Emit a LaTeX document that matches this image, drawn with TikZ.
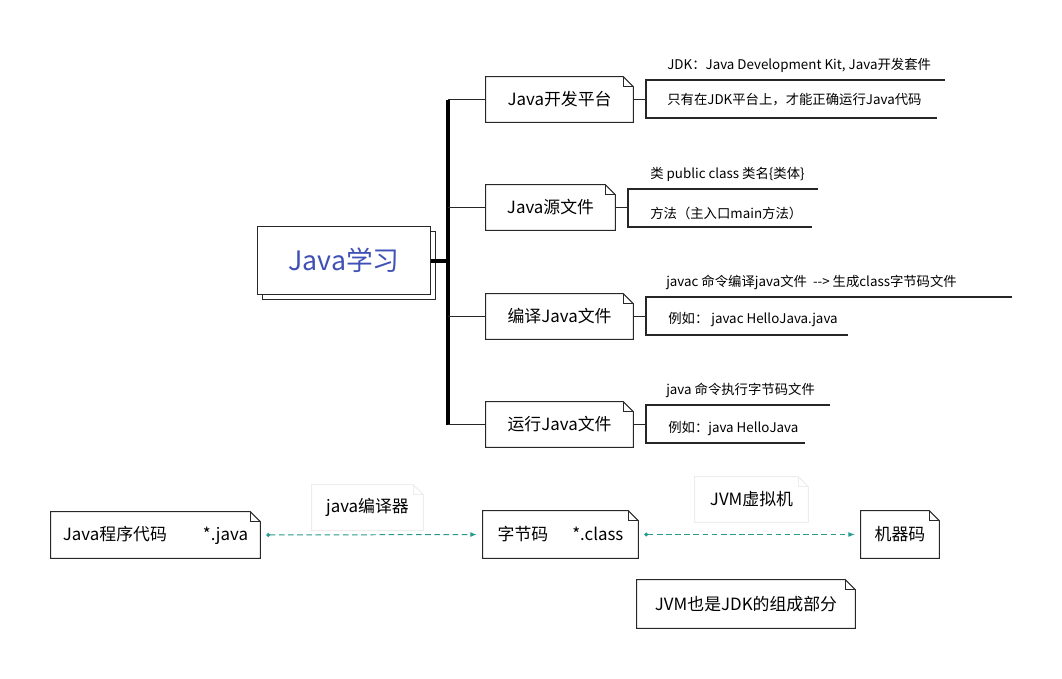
\documentclass[tikz,border=0pt]{standalone}
\usepackage{fontspec}
\setmainfont{Noto Sans CJK SC}
\usepackage{tikz}
\usetikzlibrary{shadows,arrows.meta}
\definecolor{rootblue}{RGB}{63,81,181}
\definecolor{flowteal}{RGB}{38,154,140}
\definecolor{edge}{RGB}{40,40,40}

% outline with a folded top right corner
\newcommand{\dogear}[2][draw=edge]{%
  \draw[#1, line width=0.7pt] (#2.south west) -- (#2.north west) -- ([xshift=-0.25cm]#2.north east)
    -- ([yshift=-0.25cm]#2.north east) -- (#2.south east) -- cycle;
  \draw[#1, line width=0.7pt] ([xshift=-0.25cm]#2.north east) |- ([yshift=-0.25cm]#2.north east);}

\tikzset{
  root/.style={draw=edge, fill=white, line width=0.7pt, minimum width=4.3cm, minimum height=1.7cm,
    text=rootblue, font=\fontsize{19}{22}\selectfont,
    copy shadow={shadow xshift=0.125cm, shadow yshift=-0.125cm}},
  branch/.style={minimum width=3.675cm, minimum height=1.125cm, inner sep=0pt, font=\fontsize{12}{14}\selectfont},
  leaf/.style={anchor=west, inner sep=0pt, font=\fontsize{9.5}{12}\selectfont},
  stage/.style={minimum height=1.175cm, inner sep=0pt, font=\fontsize{12}{14}\selectfont},
  spine/.style={line width=2.4pt, black},
  twig/.style={line width=1.2pt, black!85},
  under/.style={line width=0.8pt, black!85},
  flow/.style={{Circle[length=2.8pt]}-{Latex[length=4.5pt, width=3.5pt]}, flowteal, line width=0.7pt,
    dash pattern=on 4pt off 2.5pt, shorten <=0.15cm, shorten >=0.15cm},
}

\begin{document}
\begin{tikzpicture}[x=0.025cm, y=-0.025cm]
      \useasboundingbox (0,0) rectangle (1062,678);

      \node[root] (root) at (344,260) {Java学习};
      \coordinate (spx) at (448,261);

      \node[branch] (plat) at (559.5,99.5) {Java开发平台};
      \node[branch, minimum width=3.225cm] (src) at (550.5,207.5) {Java源文件};
      \node[branch] (comp) at (559.5,316.5) {编译Java文件};
      \node[branch] (run) at (559.5,424.5) {运行Java文件};
      \dogear{plat}
      \dogear{src}
      \dogear{comp}
      \dogear{run}

      \draw[spine] (plat.west -| spx) -- (run.west -| spx);
      \draw[spine] (root.east |- spx) -- (spx);
      \draw[twig] (plat.west -| spx) -- (plat.west);
      \draw[twig] (src.west -| spx) -- (src.west);
      \draw[twig] (comp.west -| spx) -- (comp.west);
      \draw[twig] (run.west -| spx) -- (run.west);

      % Java开发平台
      \coordinate (plat-t) at (646,80);
      \coordinate (plat-b) at (646,118);
      \node[leaf] (plat1) at (667,65) {JDK：Java Development Kit, Java开发套件};
      \node[leaf] (plat2) at (667,100) {只有在JDK平台上，才能正确运行Java代码};
      \draw[twig] (plat.east) -- (plat.east -| plat-t);
      \draw[under] (945,80) -- (plat-t) -- (plat-b) -- (937,118);

      % Java源文件
      \coordinate (src-t) at (628,189);
      \coordinate (src-b) at (628,227);
      \node[leaf] (src1) at (650,174) {类 public class 类名\{类体\}};
      \node[leaf] (src2) at (650,213) {方法（主入口main方法）};
      \draw[twig] (src.east) -- (src.east -| src-t);
      \draw[under] (818,189) -- (src-t) -- (src-b) -- (812,227);

      % 编译Java文件
      \coordinate (comp-t) at (646,297);
      \coordinate (comp-b) at (646,335);
      \node[leaf] (comp1) at (666,282) {javac 命令编译java文件\ \ {-}{-}> 生成class字节码文件};
      \node[leaf] (comp2) at (668,320) {例如： javac HelloJava.java};
      \draw[twig] (comp.east) -- (comp.east -| comp-t);
      \draw[under] (1012,297) -- (comp-t) -- (comp-b) -- (848,335);

      % 运行Java文件
      \coordinate (run-t) at (646,405);
      \coordinate (run-b) at (646,443);
      \node[leaf] (run1) at (666,390) {java 命令执行字节码文件};
      \node[leaf] (run2) at (668,429) {例如：java HelloJava};
      \draw[twig] (run.east) -- (run.east -| run-t);
      \draw[under] (830,405) -- (run-t) -- (run-b) -- (805,443);

      % from source code to machine code
      \node[stage, minimum width=5.225cm, minimum height=1.15cm] (code) at (155.5,535) {Java程序代码\hspace*{0.9cm}*.java};
      \node[stage, minimum width=3.875cm] (byte) at (560.5,534.5) {字节码\hspace*{0.6cm}*.class};
      \node[stage, minimum width=1.95cm] (mach) at (900,534.5) {机器码};
      \node[stage, minimum width=2.775cm, minimum height=1.125cm] (javac) at (367.5,507.5) {java编译器};
      \node[stage, minimum width=2.825cm, minimum height=1.125cm] (jvm) at (751.5,499.5) {JVM虚拟机};
      \node[stage, minimum width=5.45cm, minimum height=1.2cm] (part) at (746,604) {JVM也是JDK的组成部分};
      \dogear{code}
      \dogear{byte}
      \dogear{mach}
      \dogear{part}
      \dogear[draw=black!7]{javac}
      \dogear[draw=black!7]{jvm}

      \draw[flow] (code.east) -- (byte.west);
      \draw[flow] (byte.east) -- (mach.west);
\end{tikzpicture}
\end{document}
